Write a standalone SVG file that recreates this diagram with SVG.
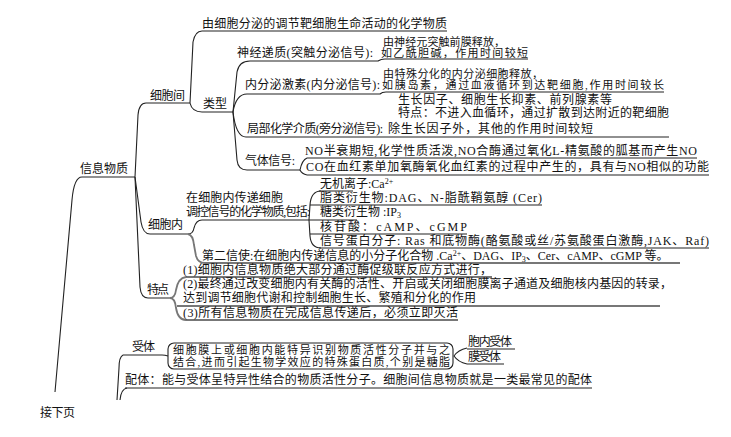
<svg xmlns="http://www.w3.org/2000/svg" width="731" height="437" viewBox="0 0 731 437">
<style>
.t{font-family:"Liberation Serif","Noto Sans CJK SC",serif;font-size:12px;fill:#111}
.s{font-size:11px}
.l{fill:none;stroke:#222;stroke-width:1.1}
.g{fill:none;stroke:#777;stroke-width:1.8}
.sup{font-size:8px}
</style>
<rect width="731" height="437" fill="#fff"/>
<g id="connectors">
<path class="l" d="M82,177 Q74,177 72,200 L55,392"/>
<path class="l" d="M82,177 L135,177"/>
<path class="l" d="M135,177 L138,115 Q139,103 146,103 L190,103"/>
<path class="l" d="M135,177 L141,222 Q143,234 150,234 L188,234"/>
<path class="l" d="M135,177 L140,287 Q141,298 148,298 L170,298"/>
<path class="l" d="M190,103 L193,42 Q195,31 202,31 L447,31"/>
<path class="l" d="M190,103 Q192,112 202,112 L233,112"/>
<path class="l" d="M233,112 L237,72 Q239,61 250,61 L378,61 Q381,59 385,59 L528,59"/>
<path class="l" d="M233,112 Q236,94 247,94 L380,94 Q382,92 386,92 L664,92"/>
<path class="l" d="M233,112 Q236,137 246,137 L669,137"/>
<path class="l" d="M233,112 L237,160 Q238,170 247,170 L300,170"/>
<path class="l" d="M307,158 Q302,160 300,170 Q302,174 307,175"/>
<path class="l" d="M307,158 L697,158"/>
<path class="l" d="M307,175 L709,175"/>
<path class="l" d="M188,234 Q193,234 194,228 Q196,220 202,220 L309,220"/>
<path class="l" d="M321,191 Q311,191 310,205 L309,220 L310,236 Q311,248 321,248"/>
<path class="l" d="M319,191 L353,191"/>
<path class="l" d="M310,205 L542,205"/>
<path class="l" d="M309,220 L357,220"/>
<path class="l" d="M310,234 L467,234"/>
<path class="l" d="M319,248 L709,248"/>
<path class="g" d="M188,234 Q193,235 194,245 L196,256 Q198,263 205,263 L680,263"/>
<path class="g" d="M186,277 Q178,278 176,290 Q175,298 170,298"/>
<path class="g" d="M186,277 L492,277"/>
<path class="g" d="M170,298 Q175,298 176,308 Q178,320 186,320 L458,320"/>
<path class="g" d="M177,306 L660,306"/>
<path class="l" d="M123,355 L162,355 Q165,355 168,356"/>
<path class="l" d="M123,355 Q119,357 119,368 L117,400"/>
<path class="l" d="M127,388 Q121,389 120,400"/>
<path class="l" d="M125,388 L592,388"/>
<path class="l" d="M467,348 Q458,350 454,356 Q458,362 467,364"/>
<path class="l" d="M467,349 L515,349"/>
<path class="l" d="M467,364 L504,364"/>
</g>
<g id="n-root"><text class="t" x="80" y="173" textLength="48">信息物质</text></g>
<g id="n-next"><text class="t" x="40" y="417" textLength="35">接下页</text></g>
<g id="n-inter"><text class="t" x="150" y="100" textLength="35">细胞间</text></g>
<g id="n-def"><text class="t" x="202" y="28" textLength="245">由细胞分泌的调节靶细胞生命活动的化学物质</text></g>
<g id="n-type"><text class="t" x="203" y="108" textLength="24">类型</text></g>
<g id="n-neuro">
<text class="t" x="237" y="57" textLength="136">神经递质(突触分泌信号):</text>
<text class="t s" x="383" y="46" textLength="122">由神经元突触前膜释放，</text>
<text class="t s" x="381" y="57" textLength="147">如乙酰胆碱，作用时间较短</text>
</g>
<g id="n-endo">
<text class="t" x="245" y="89" textLength="135">内分泌激素(内分泌信号):</text>
<text class="t s" x="383" y="78" textLength="160">由特殊分化的内分泌细胞释放，</text>
<text class="t s" x="382" y="89" textLength="282">如胰岛素，通过血液循环到达靶细胞,作用时间较长</text>
</g>
<g id="n-para">
<text class="t" x="398" y="104" textLength="214">生长因子、细胞生长抑素、前列腺素等</text>
<text class="t" x="398" y="117" textLength="271">特点：不进入血循环，通过扩散到达附近的靶细胞</text>
<text class="t" x="247" y="133" textLength="136">局部化学介质(旁分泌信号):</text>
<text class="t" x="388" y="133" textLength="205">除生长因子外，其他的作用时间较短</text>
</g>
<g id="n-gas">
<text class="t" x="245" y="165" textLength="50">气体信号:</text>
<text class="t" x="305" y="155" textLength="392">NO半衰期短,化学性质活泼,NO合酶通过氧化L-精氨酸的胍基而产生NO</text>
<text class="t" x="306" y="171" textLength="403">CO在血红素单加氧酶氧化血红素的过程中产生的，具有与NO相似的功能</text>
</g>
<g id="n-intra"><text class="t" x="148" y="229" textLength="35">细胞内</text></g>
<g id="n-chem">
<text class="t" x="186" y="202" textLength="97">在细胞内传递细胞</text>
<text class="t" x="186" y="216" textLength="124">调控信号的化学物质,包括:</text>
</g>
<g id="n-items">
<text class="t" x="320" y="188">无机离子:Ca<tspan class="sup" dy="-4">2+</tspan></text>
<text class="t" x="320" y="202" textLength="222">脂类衍生物:DAG、N-脂酰鞘氨醇 (Cer)</text>
<text class="t" x="320" y="216">糖类衍生物 :IP<tspan class="sup" dy="2">3</tspan></text>
<text class="t" x="320" y="231" textLength="147">核苷酸：cAMP、cGMP</text>
<text class="t" x="320" y="245" textLength="389">信号蛋白分子: Ras 和底物酶(酪氨酸或丝/苏氨酸蛋白激酶,JAK、Raf)</text>
</g>
<g id="n-second"><text class="t" x="202" y="260">第二信使:在细胞内传递信息的小分子化合物 .Ca<tspan class="sup" dy="-4">2+</tspan><tspan dy="4">、DAG、IP</tspan><tspan class="sup" dy="2">3</tspan><tspan dy="-2">、Cer、cAMP、cGMP 等。</tspan></text></g>
<g id="n-feat"><text class="t" x="147" y="294" textLength="22">特点</text></g>
<g id="n-f1"><text class="t" x="183" y="274" textLength="309">(1)细胞内信息物质绝大部分通过酶促级联反应方式进行，</text></g>
<g id="n-f2">
<text class="t" x="183" y="288" textLength="489">(2)最终通过改变细胞内有关酶的活性、开启或关闭细胞膜离子通道及细胞核内基因的转录，</text>
<text class="t" x="183" y="302" textLength="293">达到调节细胞代谢和控制细胞生长、繁殖和分化的作用</text>
</g>
<g id="n-f3"><text class="t" x="183" y="317" textLength="275">(3)所有信息物质在完成信息传递后，必须立即灭活</text></g>
<g id="n-rec">
<text class="t" x="132" y="351" textLength="23">受体</text>
<rect x="168" y="343" width="285" height="26" rx="6" fill="none" stroke="#222" stroke-width="1.1"/>
<text class="t s" x="173" y="354" textLength="277">细胞膜上或细胞内能特异识别物质活性分子并与之</text>
<text class="t s" x="173" y="366" textLength="277">结合,进而引起生物学效应的特殊蛋白质,个别是糖脂</text>
</g>
<g id="n-rec1"><text class="t" x="468" y="346" textLength="44">胞内受体</text></g>
<g id="n-rec2"><text class="t" x="468" y="361" textLength="33">膜受体</text></g>
<g id="n-lig"><text class="t" x="125" y="384" textLength="467">配体：能与受体呈特异性结合的物质活性分子。细胞间信息物质就是一类最常见的配体</text></g>
</svg>
